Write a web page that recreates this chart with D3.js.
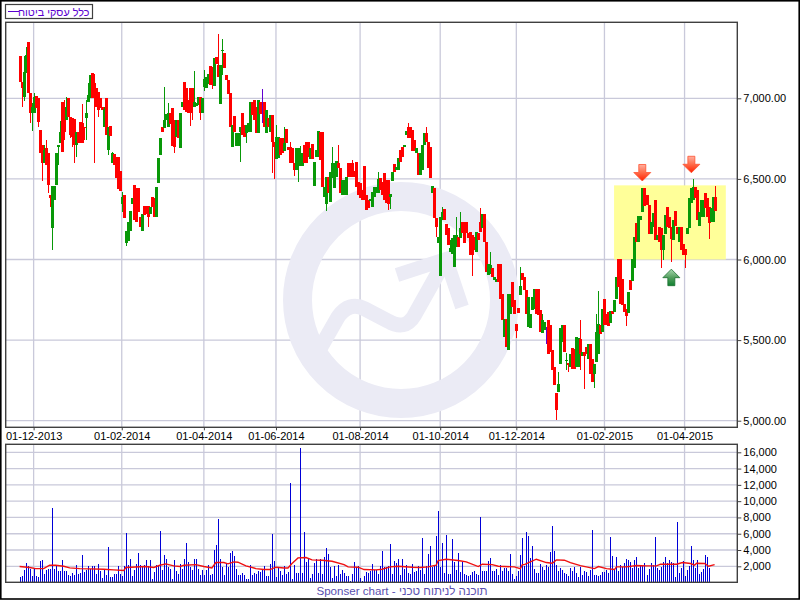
<!DOCTYPE html>
<html lang="he"><head><meta charset="utf-8">
<script src="https://cdnjs.cloudflare.com/ajax/libs/d3/7.8.5/d3.min.js"></script>
<style>html,body{margin:0;padding:0;background:#fff}svg{display:block}text{font-family:"Liberation Sans",Arial,sans-serif}</style>
</head><body><svg id="c" width="800" height="600"></svg>
<script>
const opens=[7263,7104,7010,7159,7350,7031,6911,6911,7017,7000,
6803,6708,6596,6690,6663,6400,6195,6369,6462,6698,
6725,6979,6921,6865,7002,6886,6876,6870,6708,6793,
6855,6845,6824,6876,6979,7000,7155,7093,7062,7041,
7000,6948,6824,7000,6679,6828,6596,6654,6638,6638,
6551,6344,6400,6100,6116,6178,6344,6462,6441,6441,
6265,6178,6331,6331,6331,6282,6389,6379,6261,6472,
6648,6824,6814,6865,6824,6907,6938,6865,6762,6865,
6690,6948,7104,7066,6990,7066,7066,6948,6952,6959,
7010,6911,7072,7062,7114,7201,7197,7077,7255,7207,
6965,7296,7279,7145,7114,7031,6700,6890,6704,6704,
6793,6907,6834,6783,6793,6789,6979,6990,6948,6787,
6979,6950,6979,6787,6876,6793,6897,6731,6621,6627,
6752,6752,6675,6807,6700,6700,6694,6596,6555,6580,
6580,6580,6710,6727,6727,6621,6716,6456,6638,6638,
6793,6793,6389,6344,6514,6358,6503,6441,6509,6596,
6569,6400,6400,6400,6596,6596,6596,6551,6607,6482,
6472,6431,6580,6400,6369,6364,6327,6385,6414,6414,
6503,6482,6534,6493,6493,6385,6487,6592,6555,6555,
6679,6700,6700,6772,6820,6824,6803,6741,6658,6663,
6524,6555,6710,6787,6731,6700,6410,6441,6255,6100,
5897,6245,6311,6220,6193,6048,6037,5955,6079,6141,
6131,6234,6234,6234,6162,6172,6151,6141,6048,6162,
6234,6193,6282,6110,5903,5913,5950,5872,5862,5971,
5969,5789,5520,5628,5437,5665,5861,5748,5599,5702,
5779,5917,5893,5810,5582,5578,5686,5696,5814,5814,
5685,5545,5561,5530,5627,5592,5437,5334,5172,5178,
5350,5489,5592,5375,5358,5333,5451,5447,5333,5333,
5509,5400,5427,5458,5385,5478,5385,5292,5364,5416,
5592,5551,5758,5665,5675,5603,5681,5675,5752,6006,
6006,5882,5727,5696,5669,5872,5868,5950,6224,6110,
6244,6296,6441,6400,6337,6161,6203,6368,6120,6199,
6193,6058,6157,6327,6265,6199,6124,6300,6203,6110,
6203,6099,6068,6161,6193,6348,6368,6447,6430,6207,
6261,6261,6414,6379,6327,6234,6234,6389];
const closes=[7104,7062,7166,7269,7031,6911,6948,7010,6938,6855,
6658,6600,6679,6586,6462,6379,6456,6456,6658,6710,
6793,6669,6793,6948,6882,6772,6762,6708,6793,6720,
6720,6720,6814,6907,7021,7145,7000,7000,6948,6928,
6938,6928,6932,6772,6824,6766,6658,6586,6503,6435,
6427,6389,6255,6178,6234,6302,6379,6244,6234,6296,
6203,6282,6276,6282,6265,6323,6323,6261,6447,6627,
6752,6793,6865,6903,6907,6841,6704,6700,6865,6752,
6907,6979,6928,6917,6911,6907,6948,6979,6969,7006,
6907,7000,7120,7135,7151,7083,7104,7248,7213,7135,
7207,7300,7186,7114,7027,6824,6834,6793,6783,6783,
6824,6772,6762,6834,6845,6979,6897,6865,6783,6990,
6903,6950,6824,6928,6824,6897,6731,6700,6762,6758,
6648,6658,6721,6721,6679,6596,6596,6555,6690,6690,
6617,6658,6600,6596,6638,6694,6621,6607,6679,6797,
6617,6451,6451,6509,6410,6545,6600,6596,6611,6565,
6410,6493,6493,6509,6514,6514,6514,6514,6451,6400,
6379,6369,6369,6307,6317,6373,6420,6447,6447,6499,
6431,6400,6369,6348,6344,6406,6545,6545,6576,6627,
6607,6638,6710,6797,6752,6752,6673,6673,6690,6524,
6658,6710,6783,6731,6565,6503,6456,6255,6203,6141,
6261,6296,6245,6151,6089,6069,6131,6151,6151,6079,
6193,6162,6100,6162,6131,6027,6027,6058,6172,6120,
6172,6282,6110,5924,5975,5965,5893,5893,5882,5862,
5758,5623,5628,5458,5789,5789,5706,5665,5557,5671,
5835,5872,5810,5661,5768,5665,5768,5820,5665,5654,
5551,5623,5613,5530,5416,5427,5313,5220,5064,5226,
5572,5592,5427,5379,5344,5416,5323,5323,5520,5516,
5416,5427,5400,5416,5478,5292,5240,5354,5551,5598,
5540,5696,5592,5592,5586,5681,5665,5747,5892,5830,
5723,5716,5675,5648,5799,5810,6006,6137,6110,6269,
6269,6441,6331,6337,6161,6234,6290,6120,6151,6110,
6058,6151,6275,6199,6193,6130,6248,6207,6161,6203,
6058,6027,6027,6193,6379,6441,6447,6379,6244,6296,
6368,6368,6317,6261,6224,6317,6389,6302];
const highs=[7263,7104,7260,7321,7350,7031,6969,7035,7017,7000,
6803,6708,6710,6741,6663,6400,6456,6456,6658,6710,
6861,6979,6990,7008,7002,6886,6876,6870,6793,6793,
6855,6965,6824,6990,7093,7145,7155,7151,7062,7041,
7000,6948,6948,7000,6824,6828,6669,6654,6638,6638,
6551,6420,6400,6178,6234,6302,6379,6462,6441,6441,
6265,6282,6331,6331,6331,6323,6389,6379,6447,6627,
6752,6824,7068,6903,6969,6907,6938,6865,6865,6865,
6907,6979,7104,7066,6990,7066,7066,7172,6969,7006,
7010,7000,7176,7135,7151,7201,7197,7248,7255,7400,
7207,7368,7279,7145,7114,7031,6834,6890,6783,6783,
6824,6907,6834,6834,6845,6979,6979,6990,6948,6990,
6979,7056,6979,6928,6876,6897,6897,6731,6834,6758,
6752,6752,6820,6807,6700,6731,6694,6596,6690,6690,
6704,6658,6710,6727,6727,6694,6716,6607,6679,6797,
6793,6793,6451,6509,6514,6545,6696,6596,6611,6710,
6569,6493,6493,6509,6596,6596,6617,6551,6607,6482,
6472,6431,6580,6400,6369,6373,6420,6447,6447,6545,
6503,6482,6534,6493,6493,6406,6545,6592,6576,6627,
6679,6700,6710,6797,6845,6824,6803,6741,6690,6663,
6658,6710,6783,6820,6731,6700,6456,6441,6255,6141,
6261,6327,6311,6220,6193,6120,6131,6151,6265,6141,
6296,6234,6234,6234,6162,6172,6151,6141,6172,6162,
6317,6282,6282,6110,5975,6048,5950,5893,5882,5971,
5969,5789,5628,5628,5789,5789,5861,5748,5599,5702,
5955,5917,5893,5810,5768,5665,5768,5820,5814,5814,
5685,5665,5613,5582,5627,5592,5437,5334,5172,5302,
5572,5592,5592,5420,5358,5416,5451,5447,5520,5516,
5623,5427,5427,5458,5478,5478,5385,5354,5665,5803,
5592,5696,5758,5665,5675,5681,5681,5747,5892,6006,
6006,5882,5727,5696,5799,5872,6006,6137,6224,6269,
6269,6441,6441,6400,6337,6234,6290,6368,6151,6199,
6193,6151,6275,6327,6265,6199,6248,6300,6203,6203,
6203,6099,6068,6193,6379,6441,6497,6447,6430,6296,
6368,6368,6414,6379,6327,6317,6389,6455];
const lows=[7104,6948,6986,7159,7031,6849,6799,6911,6938,6824,
6658,6489,6596,6586,6414,6323,6058,6369,6462,6586,
6725,6669,6741,6865,6882,6752,6700,6596,6638,6720,
6720,6720,6741,6741,6979,7000,7000,6596,6948,6886,
6938,6928,6824,6772,6648,6766,6596,6586,6503,6435,
6427,6296,6255,6085,6116,6178,6344,6244,6234,6296,
6203,6178,6276,6282,6199,6282,6323,6261,6261,6472,
6648,6793,6814,6865,6824,6841,6704,6658,6762,6752,
6690,6948,6928,6917,6911,6828,6865,6948,6952,6959,
6865,6911,7048,7062,7090,7083,7055,7077,7213,7135,
6965,7145,7186,7114,7027,6824,6700,6793,6704,6704,
6607,6772,6762,6725,6793,6789,6897,6865,6783,6787,
6903,6845,6824,6787,6824,6793,6538,6497,6621,6627,
6648,6658,6675,6721,6679,6596,6596,6518,6555,6482,
6580,6580,6600,6596,6638,6621,6621,6456,6638,6638,
6617,6451,6389,6302,6410,6358,6503,6441,6509,6565,
6410,6400,6400,6400,6514,6514,6514,6514,6451,6400,
6379,6369,6369,6307,6317,6364,6327,6385,6414,6414,
6431,6400,6369,6348,6307,6311,6487,6545,6555,6555,
6607,6638,6700,6772,6752,6752,6673,6673,6658,6524,
6524,6555,6710,6731,6565,6503,6410,6255,6141,6100,
5897,6245,6245,6151,6089,6048,6037,5955,6079,6079,
6131,6162,6100,6162,6131,6027,5897,6058,6048,6120,
6172,6193,6110,5924,5903,5913,5893,5872,5862,5862,
5758,5623,5520,5458,5437,5665,5706,5665,5516,5671,
5779,5872,5810,5661,5582,5578,5686,5696,5665,5654,
5551,5545,5561,5478,5416,5427,5313,5220,5002,5178,
5350,5489,5427,5313,5302,5333,5323,5323,5333,5333,
5313,5400,5199,5416,5385,5292,5240,5205,5364,5416,
5540,5551,5592,5592,5586,5603,5665,5675,5752,5830,
5723,5716,5675,5586,5669,5810,5868,5950,6110,6110,
6244,6296,6331,6337,6161,6161,6203,6120,6120,6110,
5950,6000,6157,6199,6193,5986,6124,6207,6161,6110,
6058,6027,5950,6161,6193,6348,6368,6379,6244,6207,
6261,6261,6317,6261,6130,6234,6234,6302];
const volumes=[700,780,1520,2460,2010,1720,780,1800,780,700,
2620,2750,1110,1520,1640,1720,9100,1640,2130,1390,
1390,2830,1390,1390,900,780,1230,980,2130,1110,
1230,3360,1310,1520,2010,1720,2010,2010,1110,2340,
1390,570,1520,900,4350,700,660,1110,1110,2010,
1110,780,2010,6030,2210,2950,780,1520,2340,3690,
2130,1930,2130,2750,2010,2750,410,1310,2130,2130,
6310,1520,3440,2950,1930,1640,490,2750,1430,1110,
2340,1720,2870,4840,2540,1930,1520,2870,2870,1720,
900,1520,900,1520,2210,900,1030,3980,4670,7790,
2950,1930,900,2260,1930,3610,3850,3240,1640,900,
900,1230,900,410,490,2130,900,1150,1030,1390,
1310,1720,2010,780,780,2340,5950,2620,660,1800,
1390,900,2010,1000,1310,12220,410,2210,1150,1150,
16560,1150,6190,2540,3030,570,1110,2420,2870,1150,
2870,1030,3120,4220,3530,1890,570,2010,780,2130,
1000,1520,1150,780,780,160,1030,2500,1890,2010,
570,160,820,1270,1230,1390,2260,1520,1520,1110,
2010,3850,1890,1890,2010,4720,1110,2620,2380,2870,
900,2870,1640,2130,1150,1070,2260,1270,1390,2010,
1520,5490,1070,2010,3480,4470,1890,2130,5700,8770,
1890,4840,1150,5820,1030,1030,5330,2500,1520,3610,
1270,2500,1030,900,780,900,1270,1390,1030,900,
8040,1390,1390,1390,2620,3030,1390,1390,1640,900,
2130,1390,1760,1760,1390,3480,1030,410,780,1390,
3360,5490,2010,6190,5700,3000,4470,1640,1230,1150,
2260,1890,1520,2130,1890,3730,6930,3850,2130,1390,
1760,1520,1150,1030,780,1760,1390,1890,1150,660,
1890,900,1390,1270,780,1520,6400,900,900,780,
900,1270,1270,1520,1150,5610,3240,1640,3120,1390,
2130,1890,2380,2870,2750,2500,1760,2750,3120,1760,
2010,2010,2380,900,1640,2380,2130,5610,1760,1520,
1890,2500,3120,2380,2750,2500,2380,660,7500,1150,
1760,2620,780,1520,2010,4470,2750,1760,2750,1030,
1270,1640,3360,3120,1760];
const maBars=[0,5,8,12,15,18,22,25,30,42,47,52,53,63,67,70,73,77,80,82,88,92,96,98,102,104,107,109,113,118,122,125,128,132,134,136,139,143,146,151,156,162,164,169,172,178,181,185,189,196,200,204,208,209,213,219,223,229,231,236,239,247,250,251,252,255,258,263,266,268,272,275,280,287,289,293,297,298,303,308,313,318,320,328,331,335,337,338,342,344,347];
const maVolumes=[1970,1850,1720,1720,2130,2130,2010,1800,1720,1640,1560,1480,1850,1970,1850,2130,2300,2050,1970,2130,2210,1970,1800,2460,2460,2300,2540,2500,2050,1720,1600,1600,1890,1800,1800,2340,3030,3080,2790,2750,2620,2210,1930,1890,1600,1560,1640,1930,2010,1890,1850,1930,2130,2710,2870,2710,2540,1970,2260,2210,2010,1930,1720,2210,2210,2540,2870,2460,2380,2790,2750,2460,2090,1720,1970,1720,1600,1930,1930,2090,2050,2050,2260,2260,2460,2340,2130,2380,2340,2010,2210];
const priceTicks=[5000,5500,6000,6500,7000];
const volumeTicks=[2000,4000,6000,8000,10000,12000,14000,16000];
const tickBars=[7,51,92,128,170,210,248,292,332];
const tickDates=["01-12-2013","01-02-2014","01-04-2014","01-06-2014","01-08-2014","01-10-2014","01-12-2014","01-02-2015","01-04-2015"];
const legendLabel="כלל עסקי ביטוח";
const footerLabel="תוכנה לניתוח טכני - Sponser chart";
const zoneBars=[296.8,352.6],zonePrices=[6000,6460];
const arrowBars=[310.9,335.4,325.4],arrowPrices=[6487,6538,5940],arrowDirs=["down","down","up"];

const L=5.7,R=737.3,T1=22.3,B1=427.3,T2=444.3,B2=582.3;
const x=d3.scaleLinear().domain([0,347]).range([19.6,714.6]);
const y=d3.scaleLinear().domain([5000,7000]).range([420.7,98.3]);
const yv=d3.scaleLinear().domain([2000,16000]).range([566.3,452.3]);
const svg=d3.select("#c");
const defs=svg.append("defs");
[["gRed",[["0%","#ffb0a0"],["50%","#ff6a48"],["100%","#ff2000"]]],["gGreen",[["0%","#a8d8b0"],["50%","#55a060"],["100%","#108030"]]]].forEach(([id,st])=>{
 const g=defs.append("linearGradient").attr("id",id).attr("x1",0).attr("y1",0).attr("x2",0).attr("y2",1);
 st.forEach(s=>g.append("stop").attr("offset",s[0]).attr("stop-color",s[1]));
});
svg.append("rect").attr("width",800).attr("height",600).attr("fill","#fff");

// grids
const grid="#c9c9da";
function gl(g,x1,y1,x2,y2){g.append("line").attr("x1",x1).attr("y1",y1).attr("x2",x2).attr("y2",y2).attr("stroke",grid).attr("stroke-width",1.3);}
const grid1=svg.append("g"),grid2=svg.append("g");
priceTicks.forEach(v=>gl(grid1,L,y(v),R,y(v)));
tickBars.forEach(b=>gl(grid1,x(b),T1,x(b),B1));
volumeTicks.forEach(v=>gl(grid2,L,yv(v),R,yv(v)));
tickBars.forEach(b=>gl(grid2,x(b),T2,x(b),B2));

// watermark
const wm=svg.append("g").attr("fill","none").attr("stroke","#ebebf5");
wm.append("circle").attr("cx",401).attr("cy",300).attr("r",103.5).attr("stroke-width",29);
wm.append("path").attr("stroke-width",15).attr("d","M318 352 L338 317 Q349 301 365 309 L388 321 Q405 331 414 316 L442 266");
wm.append("path").attr("stroke-width",14).attr("d","M397 275 L446 259 L462 307");

// zone
svg.append("rect").attr("x",x(zoneBars[0])).attr("y",y(zonePrices[1])).attr("width",x(zoneBars[1])-x(zoneBars[0])).attr("height",y(zonePrices[0])-y(zonePrices[1])).attr("fill","#ffff99");

// candles
const up="#089808",dn="#ff0000",flat="#6000d0";
const cg=svg.append("g").attr("shape-rendering","crispEdges");
opens.forEach((o,i)=>{
 const c=closes[i],col=o===c?flat:(c>o?up:dn),xx=Math.round(x(i));
 cg.append("line").attr("x1",xx+.5).attr("x2",xx+.5).attr("y1",y(Math.max(highs[i],o,c))).attr("y2",y(Math.min(lows[i],o,c))).attr("stroke",col).attr("stroke-width",1);
 if(o!==c){
  const t=y(Math.max(o,c)),b=y(Math.min(o,c));
  cg.append("rect").attr("x",xx-1).attr("y",t).attr("width",3).attr("height",Math.max(1,b-t)).attr("fill",col);
 }
});

// volume
const vg=svg.append("g").attr("shape-rendering","crispEdges");
volumes.forEach((v,i)=>{const xx=Math.round(x(i));
 vg.append("rect").attr("x",xx).attr("y",yv(v)).attr("width",1).attr("height",B2-yv(v)).attr("fill","#0000d8");});
svg.append("path").attr("fill","none").attr("stroke","#f01010").attr("stroke-width",1.4)
 .attr("d",d3.line().x((d,i)=>x(maBars[i])).y(d=>yv(d))(maVolumes));

// arrows
arrowBars.forEach((b,i)=>{
 const dir=arrowDirs[i]==="down"?1:-1,ax=x(b),ay=y(arrowPrices[i]);
 const pts=[[0,0],[-8.5,-8.5],[-3.5,-8.5],[-3.5,-16.5],[3.5,-16.5],[3.5,-8.5],[8.5,-8.5]].map(p=>[ax+p[0],ay+p[1]*dir]);
 svg.append("path").attr("d",d3.line()(pts)+"Z").attr("fill",dir>0?"url(#gRed)":"url(#gGreen)").attr("stroke",dir>0?"#ff5030":"#1a7030").attr("stroke-width",.8);
});

// frames and axes
svg.append("rect").attr("x",.8).attr("y",.8).attr("width",798.4).attr("height",598.2).attr("fill","none").attr("stroke","#000").attr("stroke-width",1.6);
[[T1,B1],[T2,B2]].forEach(([t,b])=>svg.append("rect").attr("x",L).attr("y",t).attr("width",R-L).attr("height",b-t).attr("fill","none").attr("stroke","#404040").attr("stroke-width",1.4));
const ax1=svg.append("g").attr("transform",`translate(${R},0)`).call(d3.axisRight(y).tickValues(priceTicks).tickFormat(d3.format(",.2f")).tickSize(4).tickPadding(2));
const ax2=svg.append("g").attr("transform",`translate(${R},0)`).call(d3.axisRight(yv).tickValues(volumeTicks).tickFormat(d3.format(",")).tickSize(4).tickPadding(2));
const ax3=svg.append("g").attr("transform",`translate(0,${B1})`).call(d3.axisBottom(x).tickValues(tickBars).tickFormat((d,i)=>tickDates[i]).tickSize(3).tickPadding(2));
[ax1,ax2,ax3].forEach(a=>{a.select(".domain").remove();a.selectAll("line").attr("stroke","#404040");a.selectAll("text").attr("fill","#000").style("font-size","11px").style("font-family",'"Liberation Sans",Arial,sans-serif');});

// legend
svg.append("rect").attr("x",5.5).attr("y",4.5).attr("width",87).attr("height",14).attr("fill","#fff").attr("stroke","#404040").attr("stroke-width",1.2);
svg.append("line").attr("x1",8).attr("x2",19).attr("y1",11.5).attr("y2",11.5).attr("stroke","#5a00d0").attr("stroke-width",1);
svg.append("text").attr("x",89.5).attr("y",15.5).attr("text-anchor","start").style("direction","rtl").style("font-size","10.8px").attr("fill","#5a00d0").text(legendLabel);
svg.append("text").attr("x",402).attr("y",595).attr("text-anchor","middle").style("direction","rtl").style("font-size","11.6px").attr("fill","#5a50b0").text(footerLabel);
</script></body></html>
